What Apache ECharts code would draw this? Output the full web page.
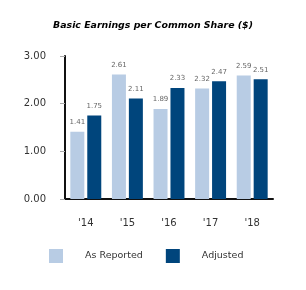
<!DOCTYPE html>
<html>
<head>
<meta charset="utf-8">
<script src="https://cdn.jsdelivr.net/npm/echarts@6/dist/echarts.min.js"></script>
<style>
    html, body { margin: 0; padding: 0; background: #fff; }
    #chart { width: 306px; height: 290px; }
</style>
</head>
<body>
<div id="chart"></div>
<script>
(function (window) {
    "use strict";
    var title = "Basic Earnings per Common Share ($)";
    var years = ["'14", "'15", "'16", "'17", "'18"];
    var as_reported = [1.41, 2.61, 1.89, 2.32, 2.59];
    var adjusted = [1.75, 2.11, 2.33, 2.47, 2.51];
    var y_ticks = { min: 0, max: 3, interval: 1 };

    var font = "DejaVu Sans";
    var light = "#b8cce4";
    var dark = "#00457c";

    var make_series = function (name, data, color) {
        return {
            name: name,
            type: 'bar',
            data: data,
            barWidth: 14,
            barGap: '21%',
            itemStyle: { color: color },
            label: {
                show: true,
                position: 'top',
                distance: 6,
                color: '#666',
                fontFamily: font,
                fontSize: 7,
                formatter: function (p) { return p.value.toFixed(2); }
            }
        };
    };

    var load = function () {
        var chart = echarts.init(document.getElementById("chart"));
        chart.setOption({
            animation: false,
            title: {
                text: title,
                left: 'center',
                top: 16,
                textStyle: { fontFamily: font, fontSize: 9.4, fontWeight: 'bold', fontStyle: 'italic', color: '#000' }
            },
            legend: {
                left: 49,
                top: 249,
                padding: 0,
                itemWidth: 14,
                itemHeight: 14,
                itemGap: 23,
                icon: 'rect',
                textStyle: { fontFamily: font, fontSize: 9.5, color: '#333', padding: [0, 0, 0, 17] },
                data: ['As Reported', 'Adjusted']
            },
            grid: { left: 65, right: 33, top: 56, bottom: 91 },
            xAxis: {
                type: 'category',
                data: years,
                axisLine: { lineStyle: { color: '#111', width: 2 } },
                axisTick: { alignWithLabel: true, length: 5, lineStyle: { color: '#111' } },
                axisLabel: { fontFamily: font, fontSize: 10, color: '#333', margin: 19 }
            },
            yAxis: {
                type: 'value',
                min: y_ticks.min,
                max: y_ticks.max,
                interval: y_ticks.interval,
                axisLine: { show: true, lineStyle: { color: '#111', width: 2 } },
                axisTick: { show: true, length: 5, lineStyle: { color: '#aaa' } },
                splitLine: { show: false },
                axisLabel: {
                    fontFamily: font, fontSize: 10, color: '#333', margin: 19,
                    formatter: function (v) { return v.toFixed(2); }
                }
            },
            series: [
                make_series('As Reported', as_reported, light),
                make_series('Adjusted', adjusted, dark)
            ]
        });
    };

    window.addEventListener("load", load, false);
})(window);
</script>
</body>
</html>
